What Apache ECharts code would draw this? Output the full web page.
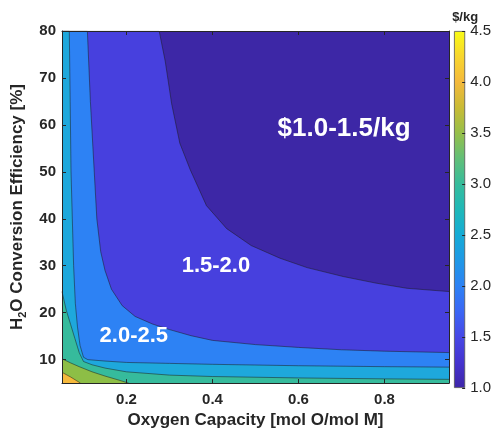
<!DOCTYPE html>
<html><head><meta charset="utf-8">
<script src="https://cdn.jsdelivr.net/npm/echarts@6/dist/echarts.min.js"></script>
<style>html,body{margin:0;padding:0;background:#fff}#c{width:494px;height:434px}#err{position:absolute;left:0;top:0;font:10px monospace;white-space:pre-wrap;width:494px;color:#c00}</style>
</head><body><div id="c"></div><div id="err"></div>
<script>
// ---- data ----
const xTicks = [0.2, 0.4, 0.6, 0.8];
const yTicks = [10, 20, 30, 40, 50, 60, 70, 80];
const cbMin = 1.0, cbMax = 4.5, cbStep = 0.5;
// region colours (lower level of each band: 1.0,1.5,2.0,2.5,3.0,3.5,4.0)
const regionColors = ['#3d27a6', '#4740de', '#2d82f4', '#1ea8dc', '#36bb9c', '#8dbe46', '#f6b93c'];
// contour boundary curves [oxygen capacity, efficiency %]
const topEdge = [[0.05, 80], [0.95, 80]];
const curve15 = [[0.05, 80], [0.276, 80], [0.290, 73.6], [0.305, 64.5], [0.324, 56.1], [0.348, 50.5], [0.386, 42.8], [0.433, 37.9], [0.49, 34.3], [0.557, 31.6], [0.62, 29.6], [0.704, 27.7], [0.78, 26.3], [0.852, 25.2], [0.95, 24.5]];
const curve20 = [[0.05, 80], [0.109, 80], [0.116, 65], [0.125, 50], [0.131, 40], [0.140, 33], [0.150, 29], [0.165, 25], [0.19, 21.5], [0.22, 19.2], [0.26, 17.6], [0.30, 16.4], [0.35, 15.1], [0.40, 14.1], [0.50, 13.2], [0.60, 12.6], [0.70, 12.1], [0.80, 11.8], [0.95, 11.5]];
const curve25 = [[0.05, 80], [0.067, 80], [0.069, 65], [0.071, 50], [0.074, 40], [0.077, 30], [0.081, 22], [0.086, 17], [0.092, 13], [0.100, 10.5], [0.11, 10.0], [0.15, 9.7], [0.2, 9.4], [0.3, 9.2], [0.4, 9.0], [0.6, 8.7], [0.8, 8.5], [0.95, 8.4]];
const curve30 = [[0.05, 24.5], [0.055, 22.5], [0.06, 20.5], [0.07, 17.5], [0.08, 14.5], [0.09, 11.5], [0.10, 9.6], [0.12, 8.9], [0.15, 8.2], [0.2, 7.4], [0.3, 6.7], [0.4, 6.4], [0.6, 6.1], [0.8, 5.9], [0.95, 5.8]];
const curve35 = [[0.05, 10.2], [0.07, 9.3], [0.09, 8.5], [0.12, 7.4], [0.15, 6.5], [0.18, 5.7], [0.205, 5]];
const curve40 = [[0.05, 7.3], [0.07, 6.3], [0.093, 5]];
const boundaries = [topEdge, curve15, curve20, curve25, curve30, curve35, curve40];
// region labels
const labelText = ['$1.0-1.5/kg', '1.5-2.0', '2.0-2.5'];
const labelPos = [[0.706, 59.2], [0.408, 30.0], [0.217, 15.0]];
const labelSize = [26, 22, 22];

// ---- chart ----
const FONT = 'Liberation Sans, Arial, Helvetica, sans-serif';
const INK = '#262626';
const chart = echarts.init(document.getElementById('c'), null, {renderer: 'canvas'});

const parulaStops = [
  [0.000, '#3e26a8'], [0.071, '#4533cf'], [0.143, '#4748e6'], [0.214, '#3b66f5'],
  [0.286, '#2d82f4'], [0.357, '#1f98e6'], [0.429, '#15abd6'], [0.50, '#1fb8b8'],
  [0.571, '#36bc9c'], [0.643, '#62bf78'], [0.714, '#96bf4a'], [0.786, '#c9bb35'],
  [0.857, '#f4b93c'], [0.929, '#f8d62e'], [1.0, '#f9fb15']
].map(s => ({offset: s[0], color: s[1]}));

const fillSeries = boundaries.map((b, i) => ({
  type: 'line', xAxisIndex: 0, yAxisIndex: 0, data: b,
  showSymbol: false, symbol: 'none', smooth: false,
  lineStyle: {color: '#1c1c1c', width: i === 0 ? 0 : 0.6, opacity: 0.85},
  areaStyle: {color: regionColors[i], opacity: 1, origin: 'start'},
  silent: true, z: 2
}));

const tickStyle = {color: INK, width: 1};

const option = {
  animation: false,
  backgroundColor: '#ffffff',
  grid: [
    {left: 62, top: 31, width: 387, height: 357},
    {left: 454, top: 31, width: 15, height: 357}
  ],
  xAxis: [
    {
      type: 'value', gridIndex: 0, position: 'bottom', min: 0.05, max: 0.95, z: 10,
      axisLine: {show: true, lineStyle: {color: INK, width: 1}}, splitLine: {show: false},
      axisTick: {show: true, inside: true, length: 4, customValues: xTicks, lineStyle: tickStyle},
      axisLabel: {customValues: xTicks, formatter: v => Number(v).toFixed(1), fontSize: 15, fontWeight: 'bold', color: INK, fontFamily: FONT, margin: 9},
      name: 'Oxygen Capacity [mol O/mol M]', nameLocation: 'middle', nameGap: 26,
      nameTextStyle: {fontSize: 17, fontWeight: 'bold', color: INK, fontFamily: FONT}
    },
    {
      type: 'value', gridIndex: 0, position: 'top', min: 0.05, max: 0.95, z: 10,
      axisLine: {show: true, lineStyle: {color: INK, width: 1}}, splitLine: {show: false},
      axisTick: {show: true, inside: true, length: 4, customValues: xTicks, lineStyle: tickStyle},
      axisLabel: {show: false, customValues: xTicks}
    },
    {type: 'category', gridIndex: 1, data: ['c'], show: false}
  ],
  yAxis: [
    {
      type: 'value', gridIndex: 0, position: 'left', min: 5, max: 80, z: 10,
      axisLine: {show: true, lineStyle: {color: INK, width: 1}}, splitLine: {show: false},
      axisTick: {show: true, inside: true, length: 4, customValues: yTicks, lineStyle: tickStyle},
      axisLabel: {customValues: yTicks, fontSize: 15, fontWeight: 'bold', color: INK, fontFamily: FONT, margin: 6},
      name: '{n|H}{s|2}{n|O Conversion Efficiency [%]}', nameLocation: 'middle', nameGap: 29,
      nameTextStyle: {
        color: INK, fontFamily: FONT,
        rich: {
          n: {fontSize: 17, fontWeight: 'bold', color: INK, fontFamily: FONT, lineHeight: 22},
          s: {fontSize: 11, fontWeight: 'bold', color: INK, fontFamily: FONT, verticalAlign: 'bottom'}
        }
      }
    },
    {
      type: 'value', gridIndex: 0, position: 'right', min: 5, max: 80, z: 10,
      axisLine: {show: true, lineStyle: {color: INK, width: 1}}, splitLine: {show: false},
      axisTick: {show: true, inside: true, length: 4, customValues: yTicks, lineStyle: tickStyle},
      axisLabel: {show: false, customValues: yTicks}
    },
    {
      type: 'value', gridIndex: 1, position: 'right', min: cbMin, max: cbMax, interval: cbStep, z: 10,
      axisLine: {show: false}, splitLine: {show: false},
      axisTick: {show: true, inside: true, length: 3, lineStyle: tickStyle},
      axisLabel: {formatter: v => Number(v).toFixed(1), fontSize: 15, color: INK, fontFamily: FONT, margin: 5},
      name: '$/kg', nameLocation: 'end', nameGap: 7,
      nameTextStyle: {fontSize: 13, fontWeight: 'bold', color: INK, fontFamily: FONT, align: 'center'}
    }
  ],
  series: fillSeries.concat([
    {
      type: 'bar', xAxisIndex: 2, yAxisIndex: 2, stack: 'cb', data: [cbMin],
      barWidth: '100%', itemStyle: {color: 'rgba(0,0,0,0)'}, silent: true
    },
    {
      type: 'bar', xAxisIndex: 2, yAxisIndex: 2, stack: 'cb', data: [cbMax - cbMin],
      barWidth: '100%', silent: true,
      itemStyle: {color: new echarts.graphic.LinearGradient(0, 1, 0, 0, parulaStops), borderColor: '#555', borderWidth: 0.8}
    },
    {
      type: 'scatter', xAxisIndex: 0, yAxisIndex: 0, symbolSize: 0, silent: true, z: 20,
      itemStyle: {opacity: 1},
      data: labelText.map((t, i) => ({
        name: t, value: labelPos[i],
        label: {fontSize: labelSize[i]}
      })),
      label: {show: true, position: 'inside', formatter: '{b}', color: '#ffffff', opacity: 1, fontWeight: 'bold', fontFamily: FONT}
    }
  ])
};
try {
  chart.setOption(option);
} catch (e) {
  document.getElementById('err').textContent = String(e && e.stack || e);
}
</script>
</body></html>
